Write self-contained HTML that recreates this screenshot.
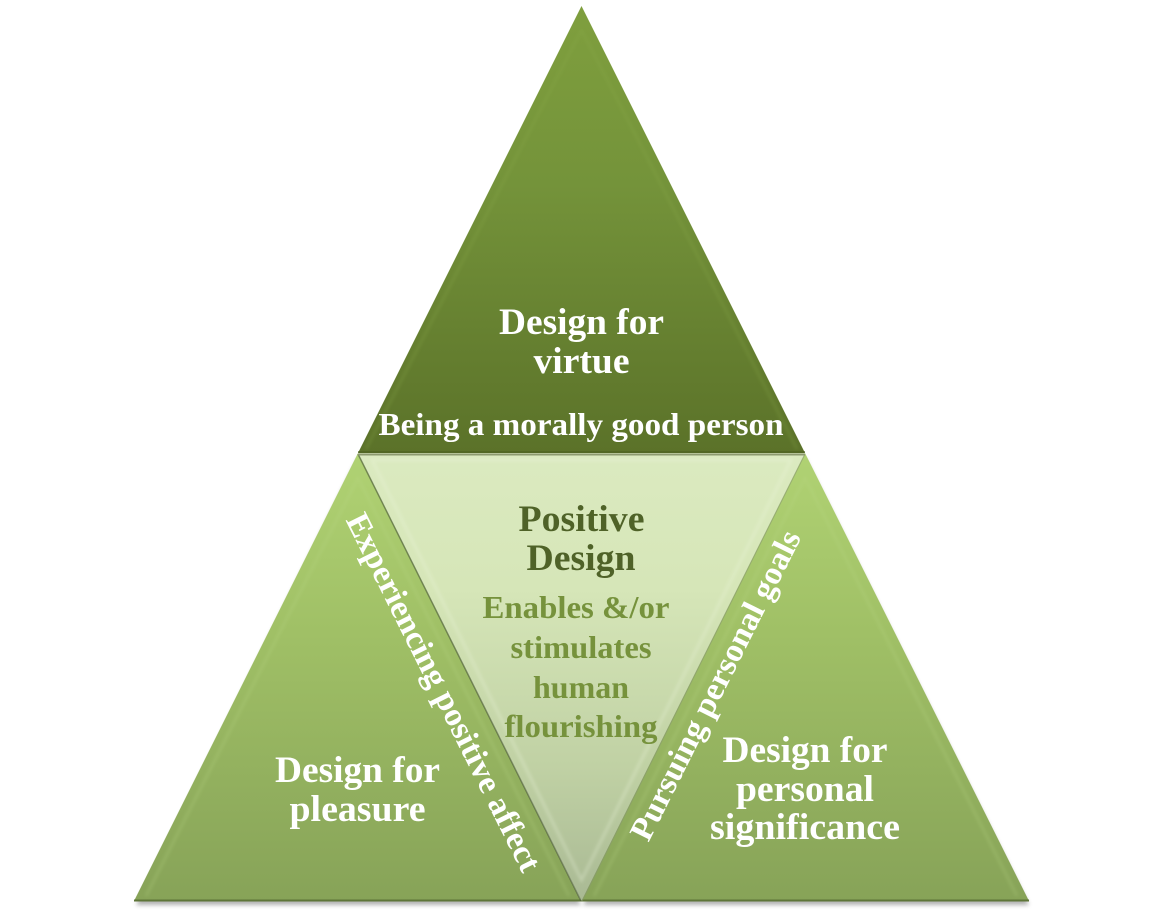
<!DOCTYPE html>
<html>
<head>
<meta charset="utf-8">
<style>
html,body{margin:0;padding:0;background:#fff;width:1162px;height:914px;overflow:hidden}
svg{display:block}
text{font-family:"Liberation Serif",serif;font-weight:bold;text-anchor:middle}
</style>
</head>
<body>
<svg width="1162" height="914" viewBox="0 0 1162 914" xmlns="http://www.w3.org/2000/svg">
<defs>
<linearGradient id="top" gradientUnits="userSpaceOnUse" x1="0" y1="6" x2="0" y2="453">
<stop offset="0" stop-color="#7f9f3e"/><stop offset="0.4" stop-color="#74933a"/><stop offset="1" stop-color="#5b7229"/>
</linearGradient>
<linearGradient id="low" gradientUnits="userSpaceOnUse" x1="0" y1="453" x2="0" y2="901">
<stop offset="0" stop-color="#b0d273"/><stop offset="0.4" stop-color="#a0c066"/><stop offset="1" stop-color="#87a358"/>
</linearGradient>
<linearGradient id="mid" gradientUnits="userSpaceOnUse" x1="0" y1="453" x2="0" y2="901">
<stop offset="0" stop-color="#dbeac0"/><stop offset="0.3" stop-color="#d6e6b8"/><stop offset="0.7" stop-color="#c0d1a4"/><stop offset="1" stop-color="#a9b994"/>
</linearGradient>
<filter id="sh" x="-5%" y="-5%" width="110%" height="110%"><feGaussianBlur stdDeviation="2"/></filter>
<filter id="bl" x="-5%" y="-5%" width="110%" height="110%"><feGaussianBlur stdDeviation="1.5"/></filter>
</defs>

<!-- shadows -->
<polygon points="358,458 136,905 581,905" fill="#555" opacity=".45" filter="url(#sh)"/>
<polygon points="805,458 583,905 1029,905" fill="#555" opacity=".45" filter="url(#sh)"/>

<!-- top -->
<polygon points="581.5,6 805,453 358,453" fill="url(#top)"/>
<polyline points="366,449 581.5,30 797,449" fill="none" stroke="#8fae50" stroke-width="3" opacity=".22" filter="url(#bl)"/>
<line x1="358" y1="452" x2="805" y2="452" stroke="#4d6122" stroke-width="2" opacity=".6"/>

<!-- left -->
<polygon points="358,453 581,901 134,901" fill="url(#low)"/>
<polyline points="146,896 358,478 569,896" fill="none" stroke="#bcd98a" stroke-width="3" opacity=".22" filter="url(#bl)"/>
<line x1="134" y1="900.5" x2="581" y2="900.5" stroke="#5e7538" stroke-width="2"/>

<!-- right -->
<polygon points="805,453 1029,901 581,901" fill="url(#low)"/>
<polyline points="594,896 805,478 1017,896" fill="none" stroke="#bcd98a" stroke-width="3" opacity=".22" filter="url(#bl)"/>
<line x1="581" y1="900.5" x2="1029" y2="900.5" stroke="#5e7538" stroke-width="2"/>

<!-- center -->
<polygon points="358,453 805,453 581.5,901" fill="url(#mid)"/>
<polygon points="372,460 791,460 581.5,880" fill="none" stroke="#eef6df" stroke-width="3" opacity=".3" filter="url(#bl)"/>
<line x1="358" y1="454" x2="581" y2="901" stroke="#4f5f3a" stroke-width="1.5" opacity=".65"/>
<line x1="805" y1="454" x2="582" y2="901" stroke="#87976f" stroke-width="1.2" opacity=".55"/>
<line x1="358" y1="454.5" x2="805" y2="454.5" stroke="#8d9a70" stroke-width="2"/>

<!-- top labels -->
<g fill="#ffffff">
<text x="581.5" y="334" font-size="37" textLength="165" lengthAdjust="spacingAndGlyphs">Design for</text>
<text x="581.5" y="373" font-size="37" textLength="96" lengthAdjust="spacingAndGlyphs">virtue</text>
<text x="581" y="435" font-size="32" textLength="405" lengthAdjust="spacingAndGlyphs">Being a morally good person</text>

<text x="357.5" y="782" font-size="37" textLength="165" lengthAdjust="spacingAndGlyphs">Design for</text>
<text x="357.5" y="821" font-size="37" textLength="136" lengthAdjust="spacingAndGlyphs">pleasure</text>

<text x="805" y="762" font-size="37" textLength="165" lengthAdjust="spacingAndGlyphs">Design for</text>
<text x="805" y="801" font-size="37" textLength="138" lengthAdjust="spacingAndGlyphs">personal</text>
<text x="805" y="839" font-size="37" textLength="190" lengthAdjust="spacingAndGlyphs">significance</text>

<text transform="translate(434,697) rotate(63.4)" font-size="33" textLength="396" lengthAdjust="spacingAndGlyphs">Experiencing positive affect</text>
<text transform="translate(725,690) rotate(-63.4)" font-size="33" textLength="342" lengthAdjust="spacingAndGlyphs">Pursuing personal goals</text>
</g>

<!-- center labels -->
<g fill="#4f6228">
<text x="581.5" y="531" font-size="37" textLength="126" lengthAdjust="spacingAndGlyphs">Positive</text>
<text x="581" y="570" font-size="37" textLength="109" lengthAdjust="spacingAndGlyphs">Design</text>
</g>
<g fill="#76923c">
<text x="576" y="618" font-size="32" textLength="187" lengthAdjust="spacingAndGlyphs">Enables &amp;/or</text>
<text x="581" y="658" font-size="32" textLength="141" lengthAdjust="spacingAndGlyphs">stimulates</text>
<text x="581" y="698" font-size="32" textLength="96" lengthAdjust="spacingAndGlyphs">human</text>
<text x="581" y="737" font-size="32" textLength="153" lengthAdjust="spacingAndGlyphs">flourishing</text>
</g>
</svg>
</body>
</html>
